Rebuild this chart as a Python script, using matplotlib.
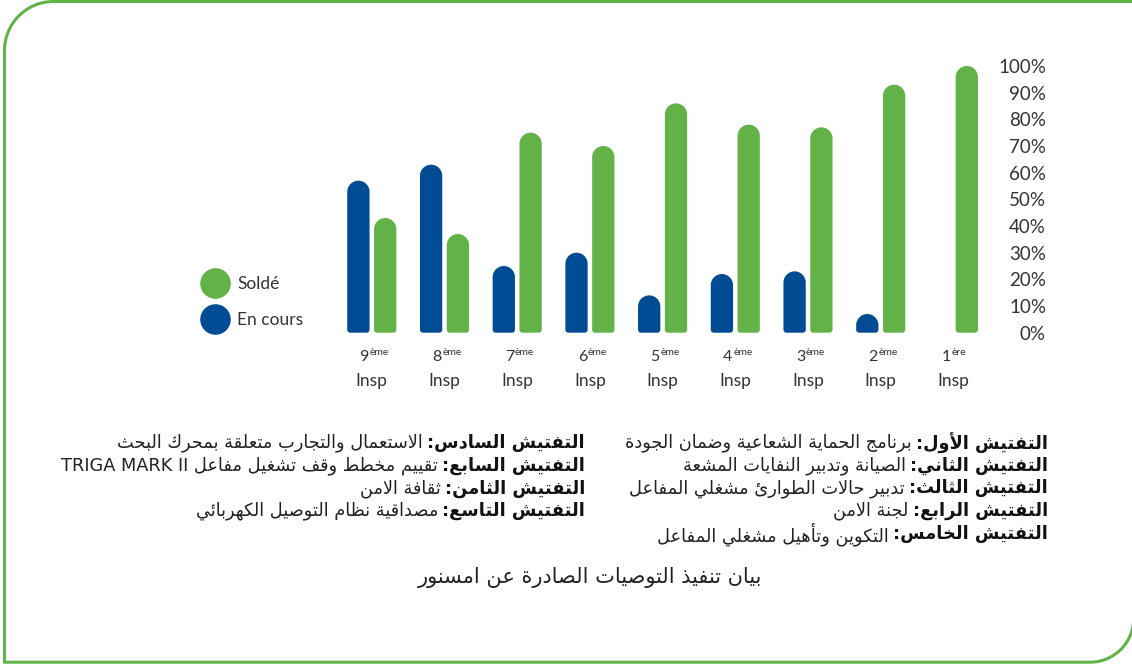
import matplotlib
matplotlib.use("Agg")
import matplotlib.pyplot as plt
from matplotlib.path import Path
from matplotlib.patches import PathPatch
from matplotlib.lines import Line2D
import numpy as np

# ---------------------------------------------------------------- data
inspections = ["9", "8", "7", "6", "5", "4", "3", "2", "1"]
suffixes = ["ème", "ème", "ème", "ème", "ème", "ème", "ème", "ème", "ère"]
en_cours = [57, 63, 25, 30, 14, 22, 23, 7, 0]
solde = [43, 37, 75, 70, 86, 78, 77, 93, 100]
y_ticks = [0, 10, 20, 30, 40, 50, 60, 70, 80, 90, 100]
y_tick_labels = [f"{v}%" for v in y_ticks]
series_labels = ["Soldé", "En cours"]

notes_right = [
    ("التفتيش الأول:", "برنامج الحماية الشعاعية وضمان الجودة"),
    ("التفتيش الثاني:", "الصيانة وتدبير النفايات المشعة"),
    ("التفتيش الثالث:", "تدبير حالات الطوارئ مشغلي المفاعل"),
    ("التفتيش الرابع:", "لجنة الامن"),
    ("التفتيش الخامس:", "التكوين وتأهيل مشغلي المفاعل"),
]
notes_left = [
    ("التفتيش السادس:", "الاستعمال والتجارب متعلقة بمحرك البحث"),
    ("التفتيش السابع:", "تقييم مخطط وقف تشغيل مفاعل TRIGA MARK II"),
    ("التفتيش الثامن:", "ثقافة الامن"),
    ("التفتيش التاسع:", "مصداقية نظام التوصيل الكهربائي"),
]
caption = "بيان تنفيذ التوصيات الصادرة عن امسنور"

BLUE = "#004c94"
GREEN = "#63b247"
TEXT = "#333333"
LATIN = ["Lato", "DejaVu Sans"]
ARABIC = ["DejaVu Sans"]

# ---------------------------------------------------- Arabic shaping
FORMS = {
    "\u0621": (0xFE80, 1), "\u0622": (0xFE81, 2), "\u0623": (0xFE83, 2),
    "\u0624": (0xFE85, 2), "\u0625": (0xFE87, 2), "\u0626": (0xFE89, 4),
    "\u0627": (0xFE8D, 2), "\u0628": (0xFE8F, 4), "\u0629": (0xFE93, 2),
    "\u062A": (0xFE95, 4), "\u062B": (0xFE99, 4), "\u062C": (0xFE9D, 4),
    "\u062D": (0xFEA1, 4), "\u062E": (0xFEA5, 4), "\u062F": (0xFEA9, 2),
    "\u0630": (0xFEAB, 2), "\u0631": (0xFEAD, 2), "\u0632": (0xFEAF, 2),
    "\u0633": (0xFEB1, 4), "\u0634": (0xFEB5, 4), "\u0635": (0xFEB9, 4),
    "\u0636": (0xFEBD, 4), "\u0637": (0xFEC1, 4), "\u0638": (0xFEC5, 4),
    "\u0639": (0xFEC9, 4), "\u063A": (0xFECD, 4), "\u0641": (0xFED1, 4),
    "\u0642": (0xFED5, 4), "\u0643": (0xFED9, 4), "\u0644": (0xFEDD, 4),
    "\u0645": (0xFEE1, 4), "\u0646": (0xFEE5, 4), "\u0647": (0xFEE9, 4),
    "\u0648": (0xFEED, 2), "\u0649": (0xFEEF, 2), "\u064A": (0xFEF1, 4),
}
LAM_ALEF = {"\u0622": 0xFEF5, "\u0623": 0xFEF7, "\u0625": 0xFEF9, "\u0627": 0xFEFB}


def shape_arabic(text):
    units, i = [], 0
    while i < len(text):
        c = text[i]
        if c == "\u0644" and i + 1 < len(text) and text[i + 1] in LAM_ALEF:
            units.append(("LA", text[i + 1]))
            i += 2
        else:
            units.append(("C", c))
            i += 1

    def is_letter(u):
        return u[0] == "LA" or u[1] in FORMS

    def links_forward(u):
        return u[0] == "C" and u[1] in FORMS and FORMS[u[1]][1] == 4

    out = []
    for k, u in enumerate(units):
        if not is_letter(u):
            out.append(u[1])
            continue
        prev = units[k - 1] if k > 0 else None
        nxt = units[k + 1] if k + 1 < len(units) else None
        jp = prev is not None and links_forward(prev)
        if u[0] == "LA":
            out.append(chr(LAM_ALEF[u[1]] + (1 if jp else 0)))
            continue
        code, n = FORMS[u[1]]
        if n == 1:
            out.append(chr(code))
            continue
        jn = n == 4 and nxt is not None and is_letter(nxt)
        if jp and jn:
            out.append(chr(code + 3))
        elif jp:
            out.append(chr(code + 1))
        elif jn:
            out.append(chr(code + 2))
        else:
            out.append(chr(code))
    return "".join(out)


def rtl(text):
    s = shape_arabic(text)
    raw = []
    for c in s:
        if c.isascii() and c.isalnum():
            raw.append("L")
        elif c.isascii():
            raw.append("N")
        else:
            raw.append("R")
    kinds = list(raw)
    for i, t in enumerate(raw):
        if t == "N":
            p = next((raw[j] for j in range(i - 1, -1, -1) if raw[j] != "N"), "R")
            q = next((raw[j] for j in range(i + 1, len(raw)) if raw[j] != "N"), "R")
            kinds[i] = "L" if (p == "L" and q == "L") else "R"
    runs = []
    for c, k in zip(s, kinds):
        if runs and runs[-1][0] == k:
            runs[-1][1].append(c)
        else:
            runs.append([k, [c]])
    parts = []
    for k, chars in reversed(runs):
        parts.append("".join(reversed(chars)) if k == "R" else "".join(chars))
    return "".join(parts)


# ---------------------------------------------------------- figure
W, H = 1132, 664
fig = plt.figure(figsize=(W / 100, H / 100), dpi=100)
fig.patch.set_facecolor("white")

n = len(inspections)
step_px = 72.7
ax_left_px = 371.8 - step_px / 2
ax_w_px = step_px * n
ax_bottom_px = 332.7
ax_h_px = 266.7
ax = fig.add_axes([ax_left_px / W, 1 - ax_bottom_px / H, ax_w_px / W, ax_h_px / H])
ax.set_xlim(-0.5, n - 0.5)
ax.set_ylim(0, 100)
for s in ax.spines.values():
    s.set_visible(False)

x = np.arange(n)
bar_w = 22.3 / step_px
off = 13.4 / step_px
dxpp = 1.0 / step_px          # data-x per pixel
dypp = 100.0 / ax_h_px        # data-y per pixel


def rounded_bar(rect, color):
    x0, y0 = rect.get_x(), rect.get_y()
    w, h = rect.get_width(), rect.get_height()
    if h <= 0:
        return
    w_px, h_px = w / dxpp, h / dypp
    rb = min(3.0, h_px / 2)
    rt = min(w_px / 2, h_px - rb)
    k = 0.5523
    x1, y1 = x0 + w, y0 + h
    bx, by = rb * dxpp, rb * dypp
    tx, ty = rt * dxpp, rt * dypp
    verts = [
        (x0 + bx, y0), (x1 - bx, y0),
        (x1 - bx + k * bx, y0), (x1, y0 + by - k * by), (x1, y0 + by),
        (x1, y1 - ty),
        (x1, y1 - ty + k * ty), (x1 - tx + k * tx, y1), (x1 - tx, y1),
        (x0 + tx, y1),
        (x0 + tx - k * tx, y1), (x0, y1 - ty + k * ty), (x0, y1 - ty),
        (x0, y0 + by),
        (x0, y0 + by - k * by), (x0 + bx - k * bx, y0), (x0 + bx, y0),
        (x0 + bx, y0),
    ]
    codes = ([Path.MOVETO, Path.LINETO] + [Path.CURVE4] * 3 + [Path.LINETO]
             + [Path.CURVE4] * 3 + [Path.LINETO] + [Path.CURVE4] * 3
             + [Path.LINETO] + [Path.CURVE4] * 3 + [Path.CLOSEPOLY])
    ax.add_patch(PathPatch(Path(verts, codes), facecolor=color,
                           edgecolor="none", clip_on=False))


bars_blue = ax.bar(x - off, en_cours, bar_w, color=BLUE)
bars_green = ax.bar(x + off, solde, bar_w, color=GREEN)
for bars, col in ((bars_blue, BLUE), (bars_green, GREEN)):
    for r in bars:
        r.set_visible(False)
        rounded_bar(r, col)

# y axis on the right
ax.yaxis.tick_right()
ax.set_yticks(y_ticks)
ax.set_yticklabels(y_tick_labels, family=LATIN, fontsize=13.5, color=TEXT)
ax.tick_params(axis="y", length=0, pad=(1046 - (ax_left_px + ax_w_px)) * 0.72)
for lab in ax.get_yticklabels():
    lab.set_horizontalalignment("right")

# x labels: ordinal with superscript, then "Insp"
ax.set_xticks([])
xt = ax.get_xaxis_transform()
y_num = -(357 - ax_bottom_px) / ax_h_px
y_insp = -(381 - ax_bottom_px) / ax_h_px
for i, (num, suf) in enumerate(zip(inspections, suffixes)):
    t = ax.text(i - 7.5 * dxpp, y_num, num, transform=xt, ha="center", va="center",
                fontsize=11.5, family=LATIN, color=TEXT)
    ax.annotate(suf, xy=(1, 0.8), xycoords=t, ha="left", va="center",
                fontsize=7.5, family=LATIN, color=TEXT,
                xytext=(0.5, 0), textcoords="offset points")
    ax.text(i, y_insp, "Insp", transform=xt, ha="center", va="center",
            fontsize=12.5, family=LATIN, color=TEXT)

# legend
handles = [
    Line2D([], [], ls="", marker="o", ms=21, color=GREEN, mec=GREEN),
    Line2D([], [], ls="", marker="o", ms=21, color=BLUE, mec=BLUE),
]
leg = ax.legend(handles, series_labels, loc="center left",
                bbox_to_anchor=(204.5 / W, 1 - 302 / H), bbox_transform=fig.transFigure,
                frameon=False, borderpad=0, borderaxespad=0, handlelength=1.2,
                handletextpad=0.69, labelspacing=1.15,
                prop={"family": LATIN, "size": 12.5})
for t in leg.get_texts():
    t.set_color(TEXT)

# overlay in pixel coordinates for frame and Arabic notes
ov = fig.add_axes([0, 0, 1, 1], zorder=-1)
ov.set_xlim(0, W)
ov.set_ylim(H, 0)
ov.axis("off")

k = 0.5523
R1, R2 = 49.0, 43.6
lx, ty, by, rx = 4.5, 1.5, 662.2, 1133.6
frame_verts = [
    (W + 5, ty), (lx + R1, ty),
    (lx + R1 - k * R1, ty), (lx, ty + R1 - k * R1), (lx, ty + R1),
    (lx, by), (rx - R2, by),
    (rx - R2 + k * R2, by), (rx, by - R2 + k * R2), (rx, by - R2),
    (rx, by - R2 - 10),
]
frame_codes = ([Path.MOVETO, Path.LINETO] + [Path.CURVE4] * 3
               + [Path.LINETO, Path.LINETO] + [Path.CURVE4] * 3 + [Path.LINETO])
ov.add_patch(PathPatch(Path(frame_verts, frame_codes), facecolor="none",
                       edgecolor=GREEN, lw=2.2, clip_on=False))

note_fs = 12.8
line_gap = 22.7


def note_block(items, x_right, y_top):
    for j, (head, body) in enumerate(items):
        y = y_top + j * line_gap
        h = ov.text(x_right, y, rtl(head), ha="right", va="center",
                    fontsize=note_fs, fontweight="bold", family=ARABIC, color="#111111")
        ov.annotate(rtl(body), xy=(0, 0.5), xycoords=h, ha="right", va="center",
                    xytext=(-3, 0), textcoords="offset points",
                    fontsize=note_fs, family=ARABIC, color="#222222")


note_block(notes_right, 1048, 443)
note_block(notes_left, 585, 443)

ov.text(590, 578, rtl(caption), ha="center", va="center",
        fontsize=15, family=ARABIC, color="#222222")

fig.savefig("out.png", dpi=100, facecolor="white")
